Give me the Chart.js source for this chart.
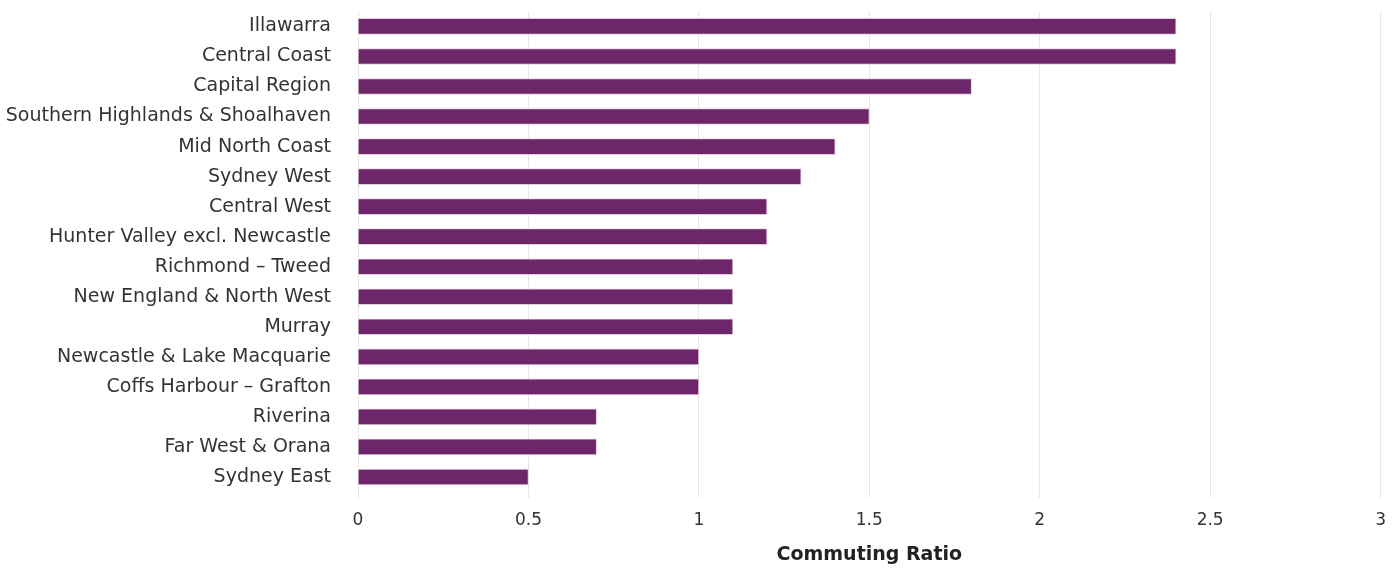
<!DOCTYPE html>
<html>
<head>
<meta charset="utf-8">
<script src="https://cdn.jsdelivr.net/npm/chart.js@4/dist/chart.umd.min.js"></script>
<style>
  html, body { margin: 0; padding: 0; background: #fff; }
  #wrap { width: 1398px; height: 570px; }
</style>
</head>
<body>
<div id="wrap"><canvas id="grafico" width="1398" height="570"></canvas></div>
<script>
// Regiões e razão de deslocamento
const regions = [
    'Illawarra', 'Central Coast', 'Capital Region', 'Southern Highlands & Shoalhaven',
    'Mid North Coast', 'Sydney West', 'Central West', 'Hunter Valley excl. Newcastle',
    'Richmond – Tweed', 'New England & North West', 'Murray', 'Newcastle & Lake Macquarie',
    'Coffs Harbour – Grafton', 'Riverina', 'Far West & Orana', 'Sydney East'
];
const commutingRatio = [2.4, 2.4, 1.8, 1.5, 1.4, 1.3, 1.2, 1.2, 1.1, 1.1, 1.1, 1.0, 1.0, 0.7, 0.7, 0.5];
const xTicks = [0, 0.5, 1, 1.5, 2, 2.5, 3];
const xTitle = 'Commuting Ratio';

const barColor = '#6d2669';
const gridColor = '#e6e6e6';
const labelsColor = '#333333';
const fontFamily = '"DejaVu Sans", sans-serif';

const ctx = document.getElementById('grafico').getContext('2d');

new Chart(ctx, {
    type: 'bar',
    data: {
        labels: regions,
        datasets: [{
            label: xTitle,
            data: commutingRatio,
            backgroundColor: barColor,
            borderColor: '#e3cde0',
            borderWidth: 1,
            barThickness: 16
        }]
    },
    options: {
        indexAxis: 'y',
        responsive: false,
        animation: false,
        layout: { padding: { top: 10, right: 16, left: 0, bottom: 0 } },
        plugins: {
            legend: { display: false },
            tooltip: { enabled: false }
        },
        scales: {
            x: {
                min: 0,
                max: 3,
                afterBuildTicks: (scale) => {
                    scale.ticks = xTicks.map(v => ({ value: v }));
                },
                afterFit: (scale) => { scale.height = 78; },
                ticks: {
                    color: labelsColor,
                    font: { family: fontFamily, size: 17 },
                    padding: 12,
                    callback: (value) => String(value)
                },
                grid: {
                    color: gridColor,
                    lineWidth: 1,
                    tickLength: 6
                },
                border: { display: false },
                title: {
                    display: true,
                    text: xTitle,
                    color: '#222',
                    font: { family: fontFamily, size: 19, weight: 'bold' },
                    padding: { top: 10 }
                }
            },
            y: {
                afterFit: (scale) => { scale.width = 358; },
                ticks: {
                    color: labelsColor,
                    font: { family: fontFamily, size: 19 },
                    padding: 0
                },
                grid: { color: 'rgba(0,0,0,0)', drawOnChartArea: false, tickLength: 27 },
                border: { display: false }
            }
        }
    }
});
</script>
</body>
</html>
